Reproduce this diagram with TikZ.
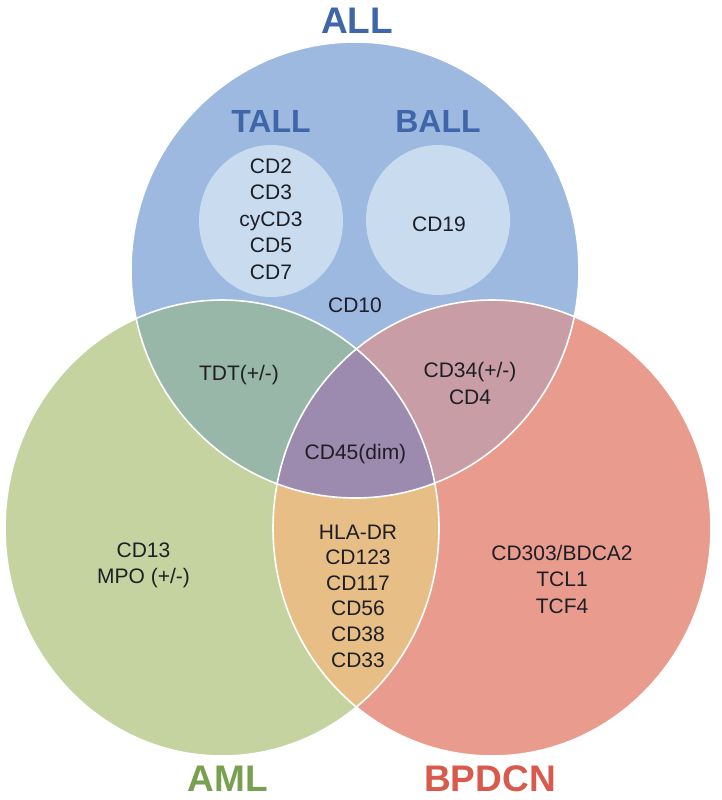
\documentclass[tikz,border=0pt]{standalone}
\usepackage{fontspec}
\setmainfont{Liberation Sans}
\definecolor{blueC}{RGB}{157,185,224}
\definecolor{greenC}{RGB}{197,211,161}
\definecolor{redC}{RGB}{233,156,141}
\definecolor{bgC}{RGB}{153,183,168}
\definecolor{brC}{RGB}{201,157,165}
\definecolor{grC}{RGB}{231,191,134}
\definecolor{allC}{RGB}{156,139,174}
\definecolor{innerC}{RGB}{201,219,238}
\definecolor{titleBlue}{RGB}{62,102,168}
\definecolor{titleGreen}{RGB}{121,160,80}
\definecolor{titleRed}{RGB}{217,90,76}
\definecolor{txtC}{RGB}{30,30,38}
\begin{document}
\begin{tikzpicture}[x=1pt,y=-1pt,
  lbl/.style={text=txtC,align=center,font=\fontsize{21}{26.5}\selectfont,inner sep=0pt},
  ttl/.style={font=\fontsize{37}{42}\selectfont\bfseries,inner sep=0pt},
  sttl/.style={font=\fontsize{32}{36}\selectfont\bfseries,inner sep=0pt,text=titleBlue},
  edge/.style={draw=white,line width=1.6pt}]
\useasboundingbox (0,0) rectangle (722,800);
\fill[white] (0,0) rectangle (722,800);
\coordinate (B) at (355,270);
\coordinate (G) at (222,528);
\coordinate (R) at (492,528);
\def\blueE{(B) ellipse [x radius=224pt, y radius=228pt]}
\def\greenE{(G) ellipse [x radius=217pt, y radius=228pt]}
\def\redE{(R) ellipse [x radius=219pt, y radius=228pt]}
% base fills
\fill[blueC] \blueE;
\fill[greenC] \greenE;
\fill[redC] \redE;
% pairwise overlaps
\begin{scope}\clip \blueE; \fill[bgC] \greenE; \end{scope}
\begin{scope}\clip \blueE; \fill[brC] \redE; \end{scope}
\begin{scope}\clip \greenE; \fill[grC] \redE; \end{scope}
% triple overlap
\begin{scope}\clip \blueE; \clip \greenE; \fill[allC] \redE; \end{scope}
% white outlines
\draw[edge] \blueE;
\draw[edge] \greenE;
\draw[edge] \redE;
% inner circles
\fill[innerC] (271,221) ellipse [x radius=72pt, y radius=76pt];
\fill[innerC] (438,220) ellipse [x radius=72pt, y radius=75pt];
% titles
\node[ttl,text=titleBlue] (tall) at (357,21) {ALL};
\node[sttl] (ttall) at (271,121) {TALL};
\node[sttl] (tball) at (438,121) {BALL};
\node[ttl,text=titleGreen] (taml) at (228,779) {AML};
\node[ttl,text=titleRed] (tbpdcn) at (490,779) {BPDCN};
% labels
\node[lbl] (ltall) at (271,219) {CD2\\CD3\\cyCD3\\CD5\\CD7};
\node[lbl] (lball) at (439,224) {CD19};
\node[lbl] (lcd10) at (355,305) {CD10};
\node[lbl] (ltdt) at (239,375) {TDT(+/-)};
\node[lbl] (lcd34) at (470,383.5) {CD34(+/-)\\CD4};
\node[lbl] (lcd45) at (355.5,454) {CD45(dim)};
\node[lbl,font=\fontsize{21}{25.6}\selectfont] (lmid) at (358,596) {HLA-DR\\CD123\\CD117\\CD56\\CD38\\CD33};
\node[lbl] (laml) at (143.5,565.5) {CD13\\MPO (+/-)};
\node[lbl] (lbp) at (562,579) {CD303/BDCA2\\TCL1\\TCF4};
\end{tikzpicture}
\end{document}
